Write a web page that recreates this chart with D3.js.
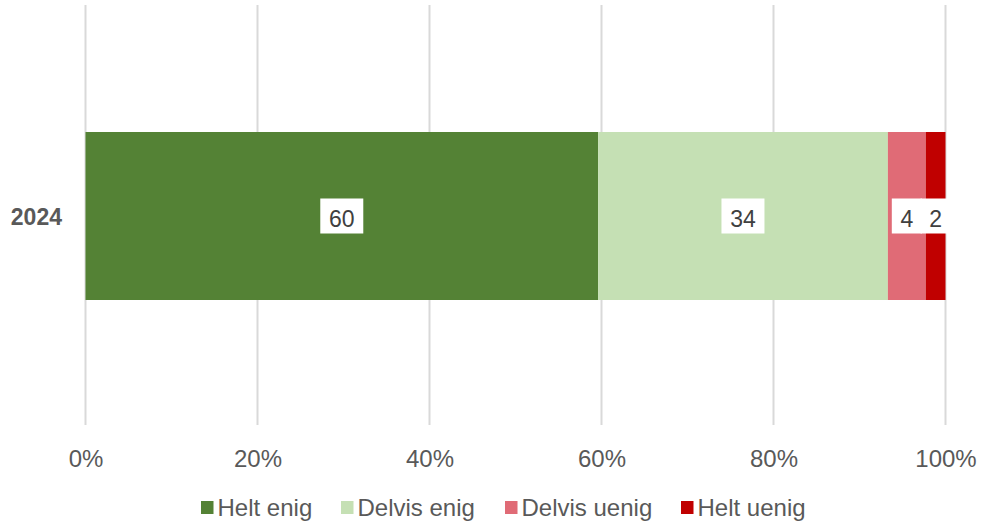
<!DOCTYPE html>
<html><head><meta charset="utf-8">
<script src="https://cdn.jsdelivr.net/npm/d3@7"></script>
<style>html,body{margin:0;padding:0;background:#fff;}svg{display:block;font-family:"Liberation Sans",Arial,sans-serif;}</style>
</head><body><div id="chart"></div>
<script>
const categories = ["2024"];
const seriesNames = ["Helt enig", "Delvis enig", "Delvis uenig", "Helt uenig"];
const seriesValues = [[59.6], [33.7], [4.4], [2.3]];
const seriesColors = ["#548235", "#C5E0B4", "#E06B76", "#C00000"];
const tickValues = [0, 20, 40, 60, 80, 100];

const W = 981, H = 526;
const FONT = "Liberation Sans, Arial, sans-serif";
const svg = d3.select("#chart").append("svg").attr("width", W).attr("height", H);

const x = d3.scaleLinear().domain([0, 100]).range([85.5, 945.5]);
const y = d3.scaleBand().domain(categories).range([6, 426]).paddingInner(0.6).paddingOuter(0.297);

// gridlines
svg.append("g").selectAll("line").data(tickValues).join("line")
  .attr("x1", d => x(d)).attr("x2", d => x(d))
  .attr("y1", 5).attr("y2", 425)
  .attr("stroke", "#D9D9D9").attr("stroke-width", 2);

// axis labels
const xAxis = d3.axisBottom(x).tickValues(tickValues).tickFormat(d => d + "%").tickSize(0).tickPadding(0);
const ax = svg.append("g").attr("transform", "translate(0,467)").call(xAxis);
ax.select(".domain").remove();
ax.selectAll("text").attr("font-size", 24).attr("fill", "#595959").attr("y", 0).attr("dy", null)
  .attr("font-family", FONT);

// category label
const yAxis = d3.axisLeft(y).tickSize(0).tickPadding(23);
const ay = svg.append("g").attr("transform", "translate(85,0)").call(yAxis);
ay.select(".domain").remove();
ay.selectAll("text").attr("font-size", 23).attr("font-weight", "bold").attr("fill", "#595959")
  .attr("dy", "0.37em").attr("font-family", FONT);

// stacked bars
const stacked = [];
categories.forEach((c, ci) => {
  let acc = 0;
  seriesNames.forEach((s, si) => {
    const v = seriesValues[si][ci];
    stacked.push({cat: c, s: si, x0: acc, x1: acc + v, v});
    acc += v;
  });
});
svg.append("g").selectAll("rect").data(stacked).join("rect")
  .attr("x", d => x(d.x0)).attr("width", d => x(d.x1) - x(d.x0))
  .attr("y", d => y(d.cat)).attr("height", y.bandwidth())
  .attr("fill", d => seriesColors[d.s]);

// labels
const lg = svg.append("g");
stacked.forEach(d => {
  const cx = (x(d.x0) + x(d.x1)) / 2;
  const cy = y(d.cat) + y.bandwidth() / 2;
  const txt = String(Math.round(d.v));
  const w = txt.length === 1 ? 30 : 43;
  lg.append("rect").attr("x", cx - w / 2).attr("y", cy - 17.5).attr("width", w).attr("height", 35).attr("fill", "#fff");
  lg.append("text").attr("x", cx).attr("y", cy + 11).attr("text-anchor", "middle")
    .attr("font-size", 23).attr("fill", "#404040").attr("font-family", FONT).text(txt);
});

// legend
const legendX = [201, 341, 505, 681];
const leg = svg.append("g");
seriesNames.forEach((s, i) => {
  leg.append("rect").attr("x", legendX[i]).attr("y", 501).attr("width", 12.5).attr("height", 13).attr("fill", seriesColors[i]);
  leg.append("text").attr("x", legendX[i] + 16.5).attr("y", 516)
    .attr("font-size", 24).attr("fill", "#595959").attr("font-family", FONT).text(s);
});
</script></body></html>
